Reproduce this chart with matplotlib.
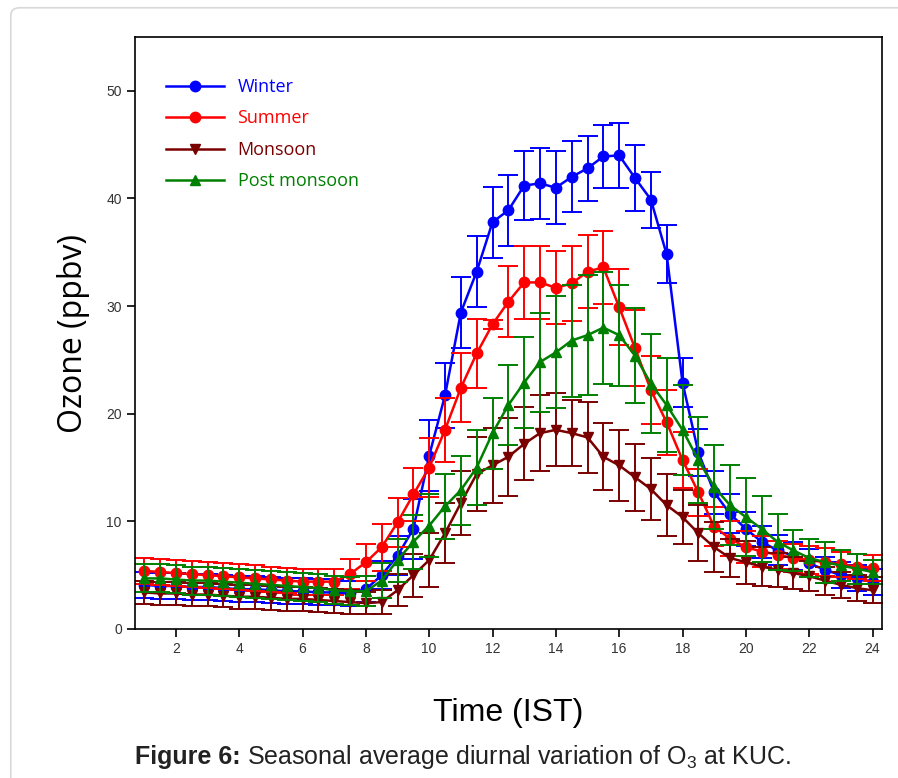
import matplotlib
matplotlib.use("Agg")
import matplotlib.pyplot as plt
from matplotlib.patches import FancyBboxPatch
import numpy as np

hours = [1 + 0.5 * i for i in range(47)]

winter = [4.1, 4.0, 4.0, 3.9, 3.9, 3.8, 3.7, 3.7, 3.6, 3.5, 3.5, 3.4, 3.4, 3.3,
          3.7, 5.0, 6.8, 9.3, 16.1, 21.7, 29.4, 33.2, 37.8, 38.9, 41.2, 41.4, 41.0,
          42.0, 42.8, 43.9, 44.0, 41.9, 39.9, 34.8, 22.9, 16.4, 12.7, 10.7, 9.3, 8.1,
          7.3, 6.8, 6.1, 5.5, 5.0, 4.7, 4.4]
winter_err = [1.2] * 14 + [1.2, 1.3, 1.8, 2.8, 3.3, 3.0, 3.3, 3.3, 3.3, 3.3, 3.2, 3.3,
                           3.4, 3.3, 3.0, 2.9, 3.0, 3.1, 2.6, 2.7, 2.3, 2.2, 2.0, 1.8,
                           1.6, 1.5, 1.4, 1.3, 1.3, 1.2, 1.2, 1.2, 1.2]

summer = [5.4, 5.3, 5.2, 5.1, 5.0, 4.9, 4.8, 4.7, 4.6, 4.5, 4.4, 4.4, 4.4, 5.1,
          6.2, 7.6, 9.9, 12.5, 15.0, 18.5, 22.4, 25.6, 28.3, 30.4, 32.2, 32.2, 31.7,
          32.1, 33.2, 33.6, 29.9, 26.1, 22.2, 19.2, 15.7, 12.7, 9.5, 8.4, 7.6, 7.2,
          6.9, 6.6, 6.4, 6.2, 6.0, 5.8, 5.7]
summer_err = [1.2] * 13 + [1.4, 1.7, 2.2, 2.3, 2.5, 2.7, 3.0, 3.2, 3.2, 0.4, 3.3, 3.4,
                           3.4, 3.4, 3.5, 3.4, 3.4, 3.5, 3.5, 3.2, 3.0, 2.6, 2.2, 1.8,
                           1.6, 1.5, 1.4, 1.3, 1.3, 1.3, 1.3, 1.2, 1.2, 1.2]

monsoon = [3.4, 3.3, 3.3, 3.2, 3.2, 3.1, 3.0, 3.0, 2.9, 2.8, 2.8, 2.7, 2.6, 2.5,
           2.4, 2.5, 3.6, 5.0, 6.4, 8.9, 11.7, 14.4, 15.2, 16.0, 17.2, 18.2, 18.5,
           18.2, 17.8, 16.0, 15.2, 14.1, 13.0, 11.5, 10.4, 8.9, 7.6, 6.6, 6.2, 5.8,
           5.5, 5.2, 4.9, 4.5, 4.1, 3.8, 3.6]
monsoon_err = [1.1] * 14 + [1.0, 1.1, 1.5, 2.0, 2.5, 2.8, 3.0, 3.4, 3.5, 3.6, 3.4, 3.5,
                            3.4, 3.1, 3.3, 3.1, 3.3, 3.1, 2.9, 2.9, 2.5, 2.6, 2.3, 1.8,
                            2.0, 1.8, 1.6, 1.5, 1.4, 1.3, 1.2, 1.2, 1.2]

postmonsoon = [4.7, 4.7, 4.6, 4.5, 4.5, 4.4, 4.3, 4.2, 4.1, 4.0, 3.9, 3.8, 3.6, 3.5,
               3.5, 4.5, 6.4, 8.1, 9.6, 11.4, 12.9, 15.0, 18.2, 20.8, 22.9, 24.8, 25.7,
               26.8, 27.3, 28.0, 27.3, 25.4, 22.8, 20.8, 18.5, 15.7, 13.2, 11.5, 10.4,
               9.3, 8.1, 7.3, 6.6, 6.2, 5.9, 5.6, 5.3]
postmonsoon_err = [1.3] * 14 + [1.4, 1.6, 2.0, 2.5, 2.9, 3.0, 3.2, 3.5, 3.3, 3.7, 4.2,
                                4.6, 5.2, 5.2, 5.6, 5.2, 4.7, 4.4, 4.6, 4.4, 4.2, 4.0,
                                3.9, 3.7, 3.6, 3.1, 2.6, 1.9, 1.8, 1.9, 1.4, 1.4, 1.1]

labels = ["Winter", "Summer", "Monsoon", "Post monsoon"]
colors = ["#0000FF", "#FF0000", "#7A0000", "#008000"]
markers = ["o", "o", "v", "^"]
series = [winter, summer, monsoon, postmonsoon]
errors = [winter_err, summer_err, monsoon_err, postmonsoon_err]

xticks = [2, 4, 6, 8, 10, 12, 14, 16, 18, 20, 22, 24]
yticks = [0, 10, 20, 30, 40, 50]

fig = plt.figure(figsize=(8.98, 7.78), dpi=100)
fig.patches.append(FancyBboxPatch((0.012, -0.05), 1.2, 1.04, boxstyle="round,pad=0,rounding_size=0.01",
                                  transform=fig.transFigure, facecolor="none",
                                  edgecolor="#d8d8d8", linewidth=1.2))
ax = fig.add_axes([135 / 898, 1 - 629 / 778, (882 - 135) / 898, (629 - 37) / 778])

handles = []
for y, e, c, m, lab in zip(series, errors, colors, markers, labels):
    ax.errorbar(hours, y, yerr=e, color=c, ecolor=c, elinewidth=1.4, capsize=7,
                capthick=1.4, linestyle="none")
    h, = ax.plot(hours, y, color=c, marker=m, markersize=7.5, linewidth=1.8, label=lab)
    handles.append(h)

ax.set_xlim(0.71, 24.3)
ax.set_ylim(0, 55)
ax.set_xticks(xticks)
ax.set_yticks(yticks)
ax.tick_params(direction="out", length=6, width=1.2, top=False, right=False, labelsize=10)
for lab in ax.get_xticklabels() + ax.get_yticklabels():
    lab.set_family("Liberation Sans")
    lab.set_color("#333333")
for s in ax.spines.values():
    s.set_linewidth(1.2)

ax.set_ylabel("Ozone (ppbv)", fontsize=23, family="Open Sans", labelpad=12)
ax.set_xlabel("Time (IST)", fontsize=23, family="Liberation Sans", labelpad=30)

leg = ax.legend(handles=handles, loc="upper left", bbox_to_anchor=(0.02, 0.958), frameon=False,
                handlelength=3.2, handletextpad=0.75, labelspacing=0.74,
                prop={"family": "Open Sans", "size": 13})
for t, c in zip(leg.get_texts(), colors):
    t.set_color(c)

fig.canvas.draw()
r = fig.canvas.get_renderer()
t1 = fig.text(135 / 898, 1 - 757 / 778, "Figure 6:", fontsize=18, fontweight="bold",
              family="Liberation Sans", va="center", color="#222222")
bb = t1.get_window_extent(renderer=r)
x2 = (bb.x1 + 6) / fig.bbox.width
plt.rcParams["mathtext.default"] = "regular"
fig.text(x2, 1 - 757 / 778, "Seasonal average diurnal variation of O$_3$ at KUC.",
         fontsize=18, family="Liberation Sans", va="center", color="#222222")

fig.savefig("out.png", dpi=100)
